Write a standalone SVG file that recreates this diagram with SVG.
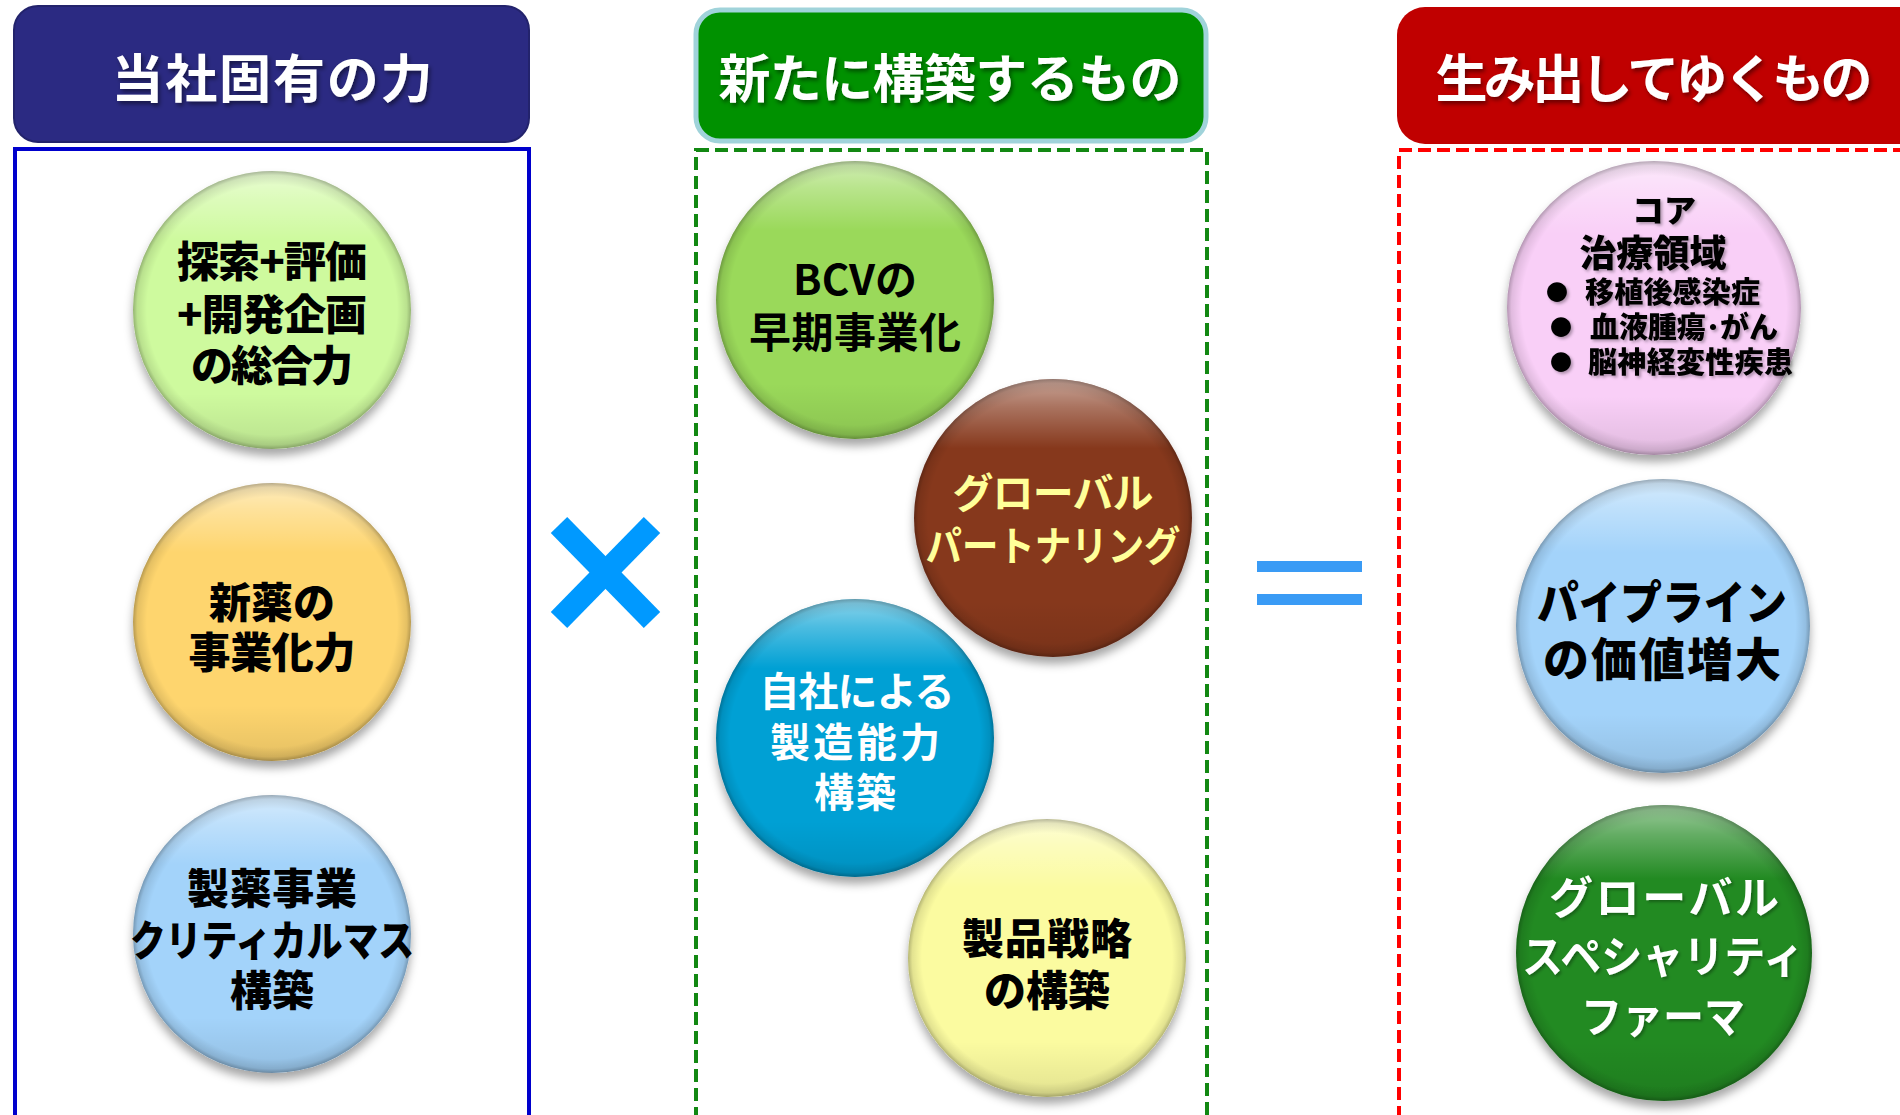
<svg xmlns="http://www.w3.org/2000/svg" width="1900" height="1115" viewBox="0 0 1900 1115">
<defs>
<style>
.hdr{font-family:"Noto Sans CJK JP","Noto Sans",sans-serif;font-weight:700;font-size:52px;fill:#ffffff;text-anchor:middle;filter:url(#tsh)}
.t{font-family:"Noto Sans CJK JP","Noto Sans",sans-serif;font-weight:700;text-anchor:middle}
.hv{font-weight:900}
.blk{fill:#000000}
.wht{fill:#ffffff}
.ylw{fill:#FFFF99}
.ball{filter:url(#dsh)}
.hl{fill:url(#hlg)}
.edge{fill:url(#edg)}
</style>
<filter id="dsh" x="-20%" y="-20%" width="140%" height="145%">
<feDropShadow dx="0" dy="7" stdDeviation="5" flood-color="#000000" flood-opacity="0.35"/>
</filter>
<filter id="tsh" x="-10%" y="-20%" width="120%" height="150%">
<feDropShadow dx="2" dy="3" stdDeviation="2" flood-color="#000000" flood-opacity="0.45"/>
</filter>
<filter id="tsh2" x="-10%" y="-20%" width="120%" height="150%">
<feDropShadow dx="2" dy="2" stdDeviation="1.5" flood-color="#000000" flood-opacity="0.3"/>
</filter>
<linearGradient id="hlg" x1="0" y1="0" x2="0" y2="1">
<stop offset="0" stop-color="#ffffff" stop-opacity="0.55"/>
<stop offset="0.1" stop-color="#ffffff" stop-opacity="0.3"/>
<stop offset="0.25" stop-color="#ffffff" stop-opacity="0"/>
<stop offset="0.8" stop-color="#000000" stop-opacity="0"/>
<stop offset="1" stop-color="#000000" stop-opacity="0.1"/>
</linearGradient>
<radialGradient id="edg" cx="0.5" cy="0.5" r="0.5">
<stop offset="0.9" stop-color="#000000" stop-opacity="0"/>
<stop offset="0.97" stop-color="#000000" stop-opacity="0.1"/>
<stop offset="1" stop-color="#000000" stop-opacity="0.28"/>
</radialGradient>
</defs>
<rect width="1900" height="1115" fill="#ffffff"/>

<g id="col-left">
<rect x="14" y="6" width="515" height="136" rx="24" fill="#2B2A82" stroke="#23236C" stroke-width="2"/>
<text class="hdr" x="272" y="98" textLength="321" lengthAdjust="spacing">当社固有の力</text>
<rect x="15" y="149" width="514" height="1000" fill="none" stroke="#0000CC" stroke-width="4"/>
</g>

<g id="col-mid">
<rect x="696" y="10" width="510" height="131" rx="24" fill="#009100" stroke="#A0D3DA" stroke-width="5"/>
<text class="hdr" x="950" y="98" textLength="463" lengthAdjust="spacing">新たに構築するもの</text>
<rect x="696" y="150" width="511" height="1000" fill="none" stroke="#128812" stroke-width="4" stroke-dasharray="13 6"/>
</g>

<g id="col-right">
<rect x="1397" y="7" width="540" height="137" rx="28" fill="#C00000"/>
<text class="hdr" x="1654" y="98" textLength="437" lengthAdjust="spacing">生み出してゆくもの</text>
<rect x="1399" y="150" width="520" height="1000" fill="none" stroke="#FF0000" stroke-width="4" stroke-dasharray="13 6"/>
</g>

<g id="node-l1">
<g class="ball"><circle cx="272" cy="310" r="139" fill="#CEFA9E"/></g>
<circle cx="272" cy="310" r="139" class="hl"/><circle cx="272" cy="310" r="139" class="edge"/>
<text class="t hv blk" font-size="42"><tspan x="272" y="277" textLength="190" lengthAdjust="spacing">探索+評価</tspan><tspan x="272" y="330" textLength="190" lengthAdjust="spacing">+開発企画</tspan><tspan x="272" y="381" textLength="162" lengthAdjust="spacing">の総合力</tspan></text>
</g>

<g id="node-l2">
<g class="ball"><circle cx="272" cy="622" r="139" fill="#FED56E"/></g>
<circle cx="272" cy="622" r="139" class="hl"/><circle cx="272" cy="622" r="139" class="edge"/>
<text class="t hv blk" font-size="42"><tspan x="272" y="618" textLength="126" lengthAdjust="spacing">新薬の</tspan><tspan x="272" y="668" textLength="167" lengthAdjust="spacing">事業化力</tspan></text>
</g>

<g id="node-l3">
<g class="ball"><circle cx="272" cy="934" r="139" fill="#A3D3FA"/></g>
<circle cx="272" cy="934" r="139" class="hl"/><circle cx="272" cy="934" r="139" class="edge"/>
<text class="t hv blk" font-size="42"><tspan x="272" y="904" textLength="170" lengthAdjust="spacing">製薬事業</tspan><tspan x="272" y="956" textLength="284" lengthAdjust="spacingAndGlyphs">クリティカルマス</tspan><tspan x="272" y="1006" textLength="84" lengthAdjust="spacing">構築</tspan></text>
</g>

<g id="node-m1">
<g class="ball"><circle cx="855" cy="300" r="139" fill="#9AD95A"/></g>
<circle cx="855" cy="300" r="139" class="hl"/><circle cx="855" cy="300" r="139" class="edge"/>
<text class="t blk" font-size="42" font-weight="500"><tspan x="855" y="295">BCVの</tspan><tspan x="855" y="348" textLength="212" lengthAdjust="spacing">早期事業化</tspan></text>
</g>

<g id="node-m2">
<g class="ball"><circle cx="1053" cy="518" r="139" fill="#86371F"/></g>
<circle cx="1053" cy="518" r="139" class="hl"/><circle cx="1053" cy="518" r="139" class="edge"/>
<text class="t ylw" font-size="41" font-weight="500"><tspan x="1053" y="508" textLength="201" lengthAdjust="spacing">グローバル</tspan><tspan x="1053" y="561" textLength="255" lengthAdjust="spacingAndGlyphs">パートナリング</tspan></text>
</g>

<g id="node-m3">
<g class="ball"><circle cx="855" cy="738" r="139" fill="#02A0D4"/></g>
<circle cx="855" cy="738" r="139" class="hl"/><circle cx="855" cy="738" r="139" class="edge"/>
<text class="t wht" font-size="40"><tspan x="857" y="706" textLength="195" lengthAdjust="spacing">自社による</tspan><tspan x="855" y="757" textLength="170" lengthAdjust="spacing">製造能力</tspan><tspan x="855" y="807" textLength="82" lengthAdjust="spacing">構築</tspan></text>
</g>

<g id="node-m4">
<g class="ball"><circle cx="1047" cy="958" r="139" fill="#FBFBA0"/></g>
<circle cx="1047" cy="958" r="139" class="hl"/><circle cx="1047" cy="958" r="139" class="edge"/>
<text class="t hv blk" font-size="42"><tspan x="1047" y="954" textLength="170" lengthAdjust="spacing">製品戦略</tspan><tspan x="1047" y="1006" textLength="126" lengthAdjust="spacing">の構築</tspan></text>
</g>

<g id="node-r1">
<g class="ball"><circle cx="1654" cy="308" r="147" fill="#F9CFF7"/></g>
<circle cx="1654" cy="308" r="147" class="hl"/><circle cx="1654" cy="308" r="147" class="edge"/>
<g filter="url(#tsh2)">
<text class="t hv blk" font-size="32" x="1664" y="222">コア</text>
<text class="t hv blk" font-size="37" x="1653" y="267" textLength="147" lengthAdjust="spacing">治療領域</text>
<text class="t blk" font-size="22" x="1557" y="300">●</text>
<text class="t blk" font-size="22" x="1561" y="335">●</text>
<text class="t blk" font-size="22" x="1561" y="370">●</text>
<text class="t hv blk" font-size="29" style="text-anchor:start" x="1585" y="303" textLength="175" lengthAdjust="spacing">移植後感染症</text>
<text class="t hv blk" font-size="29" style="text-anchor:start" x="1590" y="338" textLength="188" lengthAdjust="spacing">血液腫瘍･がん</text>
<text class="t hv blk" font-size="29" style="text-anchor:start" x="1588" y="373" textLength="205" lengthAdjust="spacing">脳神経変性疾患</text>
</g>
</g>

<g id="node-r2">
<g class="ball"><circle cx="1663" cy="626" r="147" fill="#A3D3FA"/></g>
<circle cx="1663" cy="626" r="147" class="hl"/><circle cx="1663" cy="626" r="147" class="edge"/>
<text class="t hv blk" font-size="46"><tspan x="1662" y="619" textLength="250" lengthAdjust="spacingAndGlyphs">パイプライン</tspan><tspan x="1662" y="676" textLength="238" lengthAdjust="spacing">の価値増大</tspan></text>
</g>

<g id="node-r3">
<g class="ball"><circle cx="1664" cy="953" r="148" fill="#218A21"/></g>
<circle cx="1664" cy="953" r="148" class="hl"/><circle cx="1664" cy="953" r="148" class="edge"/>
<text class="t wht" font-size="44" font-weight="500" filter="url(#tsh2)"><tspan x="1664" y="914" textLength="230" lengthAdjust="spacing">グローバル</tspan><tspan x="1663" y="973" textLength="282" lengthAdjust="spacingAndGlyphs">スペシャリティ</tspan><tspan x="1663" y="1033" textLength="164" lengthAdjust="spacingAndGlyphs">ファーマ</tspan></text>
</g>

<g id="connectors">
<g id="op-times" stroke="#0099FF" stroke-width="23" stroke-linecap="butt">
<line x1="559" y1="525" x2="652" y2="620"/>
<line x1="652" y1="525" x2="559" y2="620"/>
</g>
<g id="op-equals" fill="#3A9BF5">
<rect x="1257" y="561" width="105" height="11"/>
<rect x="1257" y="594" width="105" height="11"/>
</g>
</g>
</svg>
